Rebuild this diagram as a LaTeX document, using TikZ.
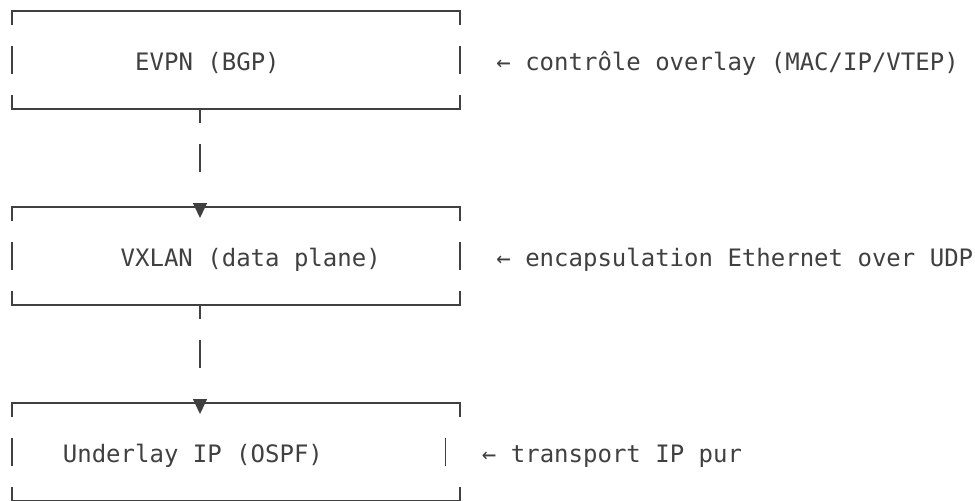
\documentclass[tikz,border=0pt]{standalone}
\usepackage{fontspec}
\newfontfamily\boxfont{DejaVu Sans Mono}
\usetikzlibrary{arrows.meta, positioning}
\definecolor{inkgray}{HTML}{404040}

\begin{document}
\begin{tikzpicture}[x=0.75pt, y=-0.75pt,
    wire/.style={draw=inkgray, line width=1.1pt},
    layerbox/.style={minimum width=336pt, minimum height=73.5pt, inner sep=0pt, outer sep=0pt},
    lbl/.style={font={\boxfont\fontsize{18}{22}\selectfont}, text=inkgray, inner sep=0pt, anchor=base west},
    link/.style={wire, dash pattern=on 10.5pt off 15.75pt on 21pt off 60pt,
        -{Triangle[length=11.25pt, width=10.5pt]}, shorten >=-8.25pt}]
    \useasboundingbox (0,0) rectangle (975,500);
    \clip (0,0) rectangle (975,500);

    % Layer boxes
    \node[layerbox] (evpn) at (236,60) {};
    \node[layerbox] (vxlan) at (236,256) {};
    \node[layerbox] (underlay) at (236,452) {};

    % Box outlines (gaps between the text rows)
    \foreach \b/\s in {evpn/0pt, vxlan/0pt, underlay/-10.84pt} {
        \draw[wire] ([yshift=-10.5pt]\b.north west) -- (\b.north west) -- (\b.north east) -- ([yshift=-10.5pt]\b.north east);
        \draw[wire] ([yshift=10.5pt]\b.south west) -- (\b.south west) -- (\b.south east) -- ([yshift=10.5pt]\b.south east);
        \draw[wire] ([yshift=10.5pt]\b.west) -- ([yshift=-10.5pt]\b.west);
        \draw[wire] ([xshift=\s, yshift=10.5pt]\b.east) -- ([xshift=\s, yshift=-10.5pt]\b.east);
    }

    % Connectors
    \coordinate (tap) at (200,0);
    \draw[link] (evpn.south -| tap) -- (vxlan.north -| tap);
    \draw[link] (vxlan.south -| tap) -- (underlay.north -| tap);

    % Box texts
    \node[lbl] (evpntxt) at (134.9,70) {EVPN (BGP)};
    \node[lbl] (vxlantxt) at (120.4,266) {VXLAN (data plane)};
    \node[lbl] (underlaytxt) at (62.6,462) {Underlay IP (OSPF)};

    % Side notes
    \node[lbl] (evpnnote) at (496.1,70) {← contrôle overlay (MAC/IP/VTEP)};
    \node[lbl] (vxlannote) at (496.1,266) {← encapsulation Ethernet over UDP};
    \node[lbl] (underlaynote) at (481.7,462) {← transport IP pur};
\end{tikzpicture}
\end{document}
